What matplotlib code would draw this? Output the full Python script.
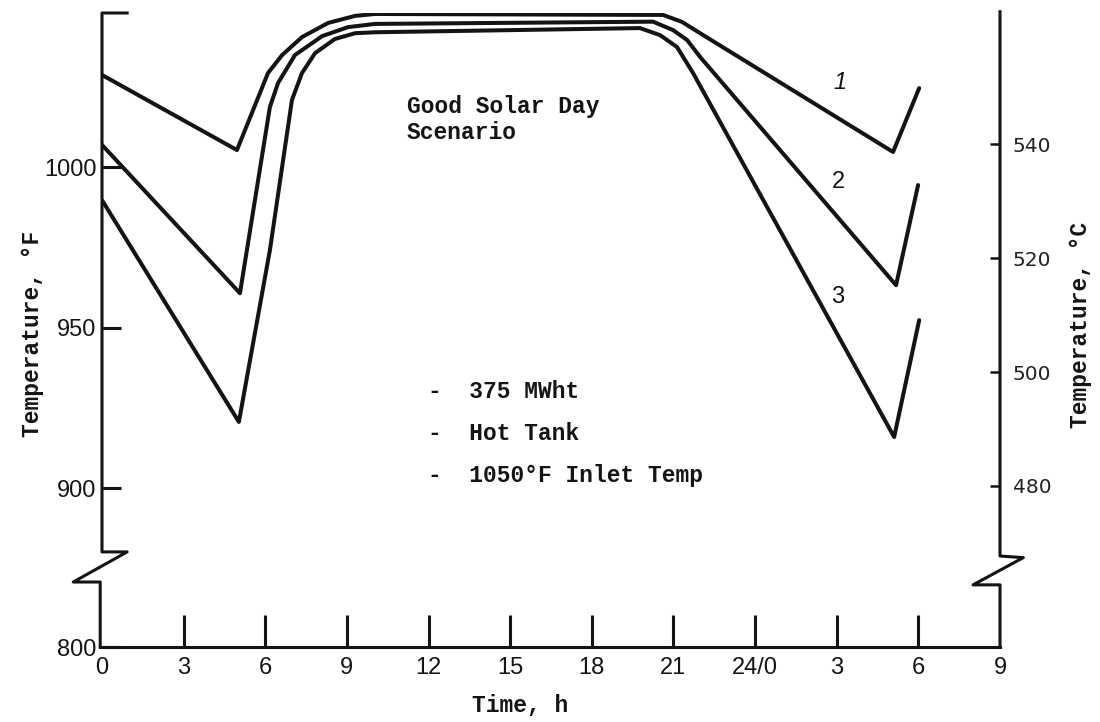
import numpy as np
import matplotlib
matplotlib.use('Agg')
from matplotlib import pyplot as plt

# curve data, hours vs temperature (deg F)
hours_1 = [0, 4.96, 6.10, 6.62, 7.35, 8.31, 9.30, 10.03, 20.62, 21.32, 21.98, 29.07, 30.03]
temp_1 = [1028.7, 1005.3, 1029.3, 1034.9, 1040.5, 1044.9, 1047.1, 1047.7, 1047.4, 1045.2, 1041.7, 1004.7, 1024.6]

hours_2 = [0, 5.07, 6.17, 6.47, 7.09, 8.09, 9.04, 10.03, 20.25, 20.98, 21.50, 21.98, 29.18, 29.99]
temp_2 = [1006.9, 960.7, 1018.7, 1026.2, 1034.9, 1040.8, 1043.6, 1044.6, 1045.3, 1042.7, 1039.6, 1034.3, 963.2, 994.4]

hours_3 = [0, 5.03, 6.17, 6.98, 7.35, 7.83, 8.56, 9.30, 10.03, 19.77, 20.51, 21.13, 21.72, 29.11, 30.03]
temp_3 = [989.7, 920.6, 974.1, 1020.9, 1029.3, 1035.5, 1039.9, 1041.7, 1042.0, 1043.3, 1041.1, 1037.4, 1029.3, 915.9, 952.3]

x_ticks = list(range(0, 34, 3))
x_labels = ['0', '3', '6', '9', '12', '15', '18', '21', '24/0', '3', '6', '9']
f_ticks = [800, 900, 950, 1000]
c_ticks = [480, 500, 520, 540]

curve_names = ['1', '2', '3']
curve_label_pos = [(27.12, 1026.5), (27.05, 995.3), (27.05, 959.5)]
notes = ['-  375 MWht', '-  Hot Tank', '-  1050°F Inlet Temp']
note_temps = [930.2, 917.1, 904.0]

INK = '#141414'
mono = dict(family='Liberation Mono', weight='bold', size=16.5, color=INK)

# broken axis below 880 F: squeeze the 800-880 band
K = 0.369
def fwd(t):
    t = np.asarray(t, dtype=float)
    return np.where(t >= 880, t, 880 - (880 - t) * K)
def inv(v):
    v = np.asarray(v, dtype=float)
    return np.where(v >= 880, v, 880 - (880 - v) / K)

fig = plt.figure(figsize=(11, 7.22), dpi=100)
ax = fig.add_axes([102/1100, 1 - 647/722, 898/1100, 634/722])
ax.set_yscale('function', functions=(fwd, inv))
ax.set_xlim(0, 33)
ax.set_ylim(800, 1048)

for h, t in [(hours_1, temp_1), (hours_2, temp_2), (hours_3, temp_3)]:
    ax.plot(h, t, color=INK, lw=2.9, solid_joinstyle='round', solid_capstyle='round')

for name, (h, t) in zip(curve_names, curve_label_pos):
    ax.text(h, t, name, ha='center', va='center', family='Liberation Sans',
            size=17, color=INK, style='italic' if name == '1' else 'normal')

ax.text(11.21, 1014.8, 'Good Solar Day\nScenario', ha='left', va='center',
        linespacing=1.2, **mono)
for s, t in zip(notes, note_temps):
    ax.text(11.98, t, s, ha='left', va='center', **mono)

# axes frame drawn by hand (break marks)
for sp in ax.spines.values():
    sp.set_visible(False)
lw_ax = 2.2
ax.plot([0.028, 0, 0, 0.028, -0.032, -0.002, -0.002],
        [1, 1, 0.150, 0.150, 0.1025, 0.1025, 0],
        transform=ax.transAxes, clip_on=False, color=INK, lw=lw_ax)
ax.plot([1, 1, 1.026, 0.970, 1, 1],
        [1.002, 0.1435, 0.141, 0.098, 0.098, 0],
        transform=ax.transAxes, clip_on=False, color=INK, lw=lw_ax)
ax.plot([-0.002, 1], [0, 0], transform=ax.transAxes, clip_on=False, color=INK, lw=lw_ax)

ax.set_xticks(x_ticks)
ax.set_xticklabels(x_labels, family='Liberation Sans', size=17, color=INK)
ax.tick_params(axis='x', direction='in', length=23, width=2.2, color=INK, pad=7)
# no tick marks on the corners, only labels
xt = ax.xaxis.get_major_ticks()
for t in (xt[0], xt[-1]):
    t.tick1line.set_visible(False)
ax.set_yticks(f_ticks)
ax.set_yticklabels([str(v) for v in f_ticks], family='Liberation Sans', size=17, color=INK)
ax.tick_params(axis='y', direction='in', length=14, width=2.2, color=INK, pad=4)
ax.yaxis.get_major_ticks()[0].tick1line.set_visible(False)

ax2 = ax.twinx()
ax2.set_ylim(451.7, 563.1)
for sp in ax2.spines.values():
    sp.set_visible(False)
ax2.set_yticks(c_ticks)
ax2.set_yticklabels([str(v) for v in c_ticks], family='DejaVu Sans', size=14.5, color='#222222')
ax2.tick_params(axis='y', direction='in', length=7, width=1.8, color=INK, pad=9)

fig.text(33/1100, 1 - 334/722, 'Temperature, °F', rotation=90, ha='center', va='center', **mono)
fig.text(1080/1100, 1 - 325/722, 'Temperature, °C', rotation=90, ha='center', va='center', **mono)
fig.text(520/1100, 1 - 706/722, 'Time, h', ha='center', va='center', **mono)

fig.savefig('out.png', dpi=100)
